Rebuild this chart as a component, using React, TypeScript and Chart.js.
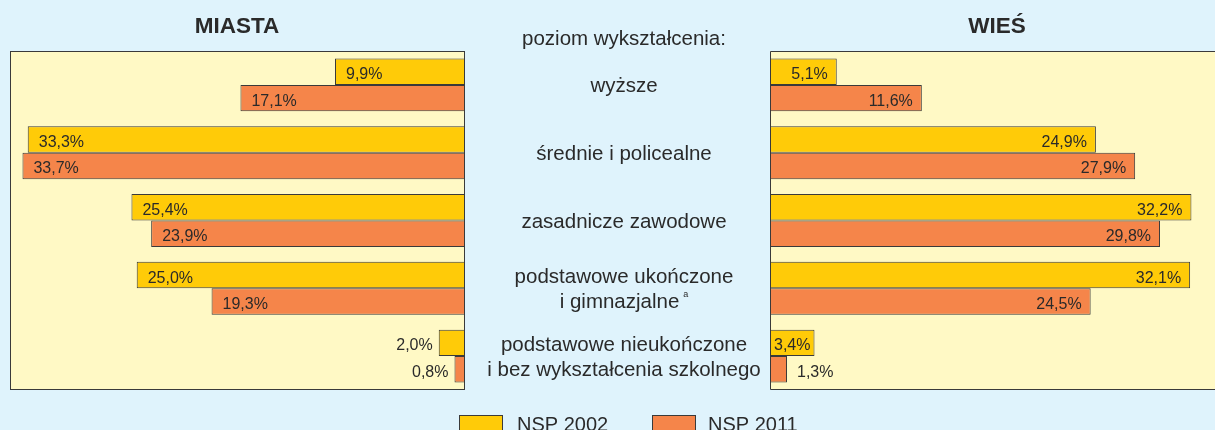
import { useEffect, useRef } from "react";
import { Chart, registerables } from "chart.js";

Chart.register(...registerables);

// ---------- data ----------
const categoryLines: string[][] = [
  ["wyższe"],
  ["średnie i policealne"],
  ["zasadnicze zawodowe"],
  ["podstawowe ukończone", "i gimnazjalne"],
  ["podstawowe nieukończone", "i bez wykształcenia szkolnego"],
];
const categoryNotes = ["", "", "", "a", ""];
const cityNsp2002 = [9.9, 33.3, 25.4, 25.0, 2.0];
const cityNsp2011 = [17.1, 33.7, 23.9, 19.3, 0.8];
const villageNsp2002 = [5.1, 24.9, 32.2, 32.1, 3.4];
const villageNsp2011 = [11.6, 27.9, 29.8, 24.5, 1.3];
const seriesNames = ["NSP 2002", "NSP 2011"];
const panelTitles = ["MIASTA", "WIEŚ"];
const headerText = "poziom wykształcenia:";

// ---------- style ----------
const FONT = '"Liberation Sans", Arial, Helvetica, sans-serif';
const COLORS = {
  page: "#DFF3FC",
  panel: "#FFF9C5",
  y2002: "#FFCB08",
  o2011: "#F5854A",
  border: "#3a3a3a",
  text: "#2a2a2a",
};
const seriesColors = [COLORS.y2002, COLORS.o2011];

const fmt = (v: number) => v.toFixed(1).replace(".", ",") + "%";

function drawValueLabels(chart: any, direction: "left" | "right") {
  const ctx = chart.ctx;
  ctx.save();
  ctx.font = `16px ${FONT}`;
  ctx.fillStyle = COLORS.text;
  ctx.textBaseline = "alphabetic";
  chart.data.datasets.forEach((ds: any, di: number) => {
    const meta = chart.getDatasetMeta(di);
    meta.data.forEach((el: any, i: number) => {
      const v = ds.data[i] as number;
      const t = fmt(v);
      const w = ctx.measureText(t).width;
      const p = el.getProps(["x", "y", "base"], true);
      const len = Math.abs(p.x - p.base);
      const yb = p.y + 7.5;
      if (direction === "left") {
        if (len >= w + 6) {
          const pad = Math.min(11, (len - w) / 2);
          ctx.textAlign = "left";
          ctx.fillText(t, p.x + pad, yb);
        } else {
          ctx.textAlign = "right";
          ctx.fillText(t, p.x - 6, yb);
        }
      } else {
        if (len >= w + 6) {
          const pad = Math.min(9, (len - w) / 2);
          ctx.textAlign = "right";
          ctx.fillText(t, p.x - pad, yb);
        } else {
          ctx.textAlign = "left";
          ctx.fillText(t, p.x + 10, yb);
        }
      }
    });
  });
  ctx.restore();
}

function makeDatasets(a: number[], b: number[]) {
  return [a, b].map((d, k) => ({
    label: seriesNames[k],
    data: d,
    backgroundColor: seriesColors[k],
    borderColor: COLORS.border,
    borderWidth: 1,
    borderSkipped: false as const,
    barPercentage: 1,
    categoryPercentage: 0.78,
  }));
}

const leftPlugin = {
  id: "leftPanel",
  beforeDatasetsDraw(chart: any) {
    const { ctx, chartArea: a } = chart;
    ctx.save();
    ctx.fillStyle = COLORS.panel;
    ctx.fillRect(a.left, a.top, a.right - a.left, a.bottom - a.top);
    ctx.restore();
  },
  afterDatasetsDraw(chart: any) {
    const { ctx, chartArea: a } = chart;
    ctx.save();
    ctx.strokeStyle = COLORS.border;
    ctx.lineWidth = 1;
    ctx.strokeRect(a.left + 0.5, a.top + 0.5, a.right - a.left - 1, a.bottom - a.top - 1);
    ctx.restore();
    drawValueLabels(chart, "left");
  },
};

const rightPlugin = {
  id: "rightPanel",
  beforeDraw(chart: any) {
    const { ctx, chartArea: a, width, height } = chart;
    ctx.save();
    ctx.fillStyle = COLORS.page;
    ctx.fillRect(0, 0, width, height);
    ctx.fillStyle = COLORS.panel;
    ctx.fillRect(a.left, a.top, a.right - a.left, a.bottom - a.top - 1);
    ctx.restore();
  },
  afterDatasetsDraw(chart: any) {
    const { ctx, chartArea: a } = chart;
    ctx.save();
    ctx.strokeStyle = COLORS.border;
    ctx.lineWidth = 1;
    ctx.beginPath();
    ctx.moveTo(a.right, a.top + 0.5);
    ctx.lineTo(a.left + 0.5, a.top + 0.5);
    ctx.lineTo(a.left + 0.5, a.bottom - 0.5);
    ctx.lineTo(a.right, a.bottom - 0.5);
    ctx.stroke();
    ctx.restore();
    drawValueLabels(chart, "right");
  },
  afterDraw(chart: any) {
    const { ctx } = chart;
    const yScale = chart.scales.y;
    ctx.save();
    ctx.fillStyle = COLORS.text;
    // titles
    ctx.font = `bold 22.5px ${FONT}`;
    ctx.textAlign = "center";
    ctx.textBaseline = "alphabetic";
    ctx.fillText(panelTitles[0], 237, 33);
    ctx.fillText(panelTitles[1], 997, 33);
    // header
    const cx = 624;
    ctx.font = `20.5px ${FONT}`;
    ctx.fillText(headerText, cx, 45);
    // category labels
    categoryLines.forEach((lines, i) => {
      const cy = yScale.getPixelForValue(i);
      const n = lines.length;
      lines.forEach((line, k) => {
        const yb = cy + 7 + (k - (n - 1) / 2) * 25;
        const note = k === n - 1 ? categoryNotes[i] : "";
        ctx.font = `20.5px ${FONT}`;
        if (note) {
          const lw = ctx.measureText(line).width;
          ctx.font = `9px ${FONT}`;
          const nw = ctx.measureText(note).width;
          const total = lw + 4 + nw;
          const x0 = cx - total / 2;
          ctx.textAlign = "left";
          ctx.font = `20.5px ${FONT}`;
          ctx.fillText(line, x0, yb);
          ctx.font = `9px ${FONT}`;
          ctx.fillText(note, x0 + lw + 4, yb - 11);
          ctx.textAlign = "center";
        } else {
          ctx.textAlign = "center";
          ctx.fillText(line, cx, yb);
        }
      });
    });
    // legend
    const legendX = [[459.5, 517], [652.5, 708]];
    ctx.textAlign = "left";
    ctx.font = `20px ${FONT}`;
    seriesNames.forEach((name, k) => {
      const [bx, tx] = legendX[k];
      ctx.fillStyle = seriesColors[k];
      ctx.fillRect(bx, 415.5, 43, 20);
      ctx.strokeStyle = COLORS.border;
      ctx.lineWidth = 1;
      ctx.strokeRect(bx, 415.5, 43, 20);
      ctx.fillStyle = COLORS.text;
      ctx.fillText(name, tx, 431);
    });
    ctx.restore();
  },
};

export default function App() {
  const leftRef = useRef<HTMLCanvasElement>(null);
  const rightRef = useRef<HTMLCanvasElement>(null);

  useEffect(() => {
    const labels = categoryLines.map((l) => l.join(" "));
    const right = new Chart(rightRef.current!, {
      type: "bar",
      data: { labels, datasets: makeDatasets(villageNsp2002, villageNsp2011) as any },
      options: {
        indexAxis: "y",
        responsive: false,
        animation: false,
        devicePixelRatio: 1,
        layout: { padding: { left: 770, top: 51, right: 0, bottom: 40 } },
        plugins: { legend: { display: false }, tooltip: { enabled: false }, title: { display: false } },
        scales: {
          x: { display: false, min: 0, max: 34.0 },
          y: { display: false },
        },
      },
      plugins: [rightPlugin],
    });
    const left = new Chart(leftRef.current!, {
      type: "bar",
      data: { labels, datasets: makeDatasets(cityNsp2002, cityNsp2011) as any },
      options: {
        indexAxis: "y",
        responsive: false,
        animation: false,
        devicePixelRatio: 1,
        layout: { padding: 0 },
        plugins: { legend: { display: false }, tooltip: { enabled: false }, title: { display: false } },
        scales: {
          x: { display: false, reverse: true, min: 0, max: 34.65 },
          y: { display: false },
        },
      },
      plugins: [leftPlugin],
    });
    return () => {
      left.destroy();
      right.destroy();
    };
  }, []);

  return (
    <div
      style={{
        position: "absolute",
        left: 0,
        top: 0,
        width: 1215,
        height: 430,
        overflow: "hidden",
        background: COLORS.page,
      }}
    >
      <canvas
        ref={rightRef}
        width={1215}
        height={430}
        style={{ position: "absolute", left: 0, top: 0, width: 1215, height: 430 }}
      />
      <canvas
        ref={leftRef}
        width={455}
        height={339}
        style={{ position: "absolute", left: 10, top: 51, width: 455, height: 339 }}
      />
    </div>
  );
}
